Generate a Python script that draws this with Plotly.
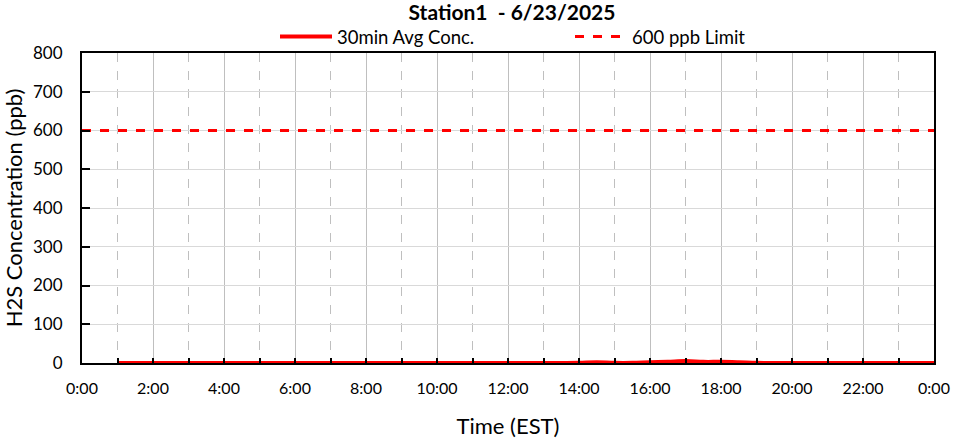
import plotly.graph_objects as go

# ---- data ----
hours = [1 + 0.5 * i for i in range(47)]  # 1:00 .. 24:00, 30-min steps
avg_conc = [0, 0, 0, 0, 0, 0, 0, 0, 0, 0,
            0, 0, 0, 0, 0, 0, 0, 0, 0, 0,
            0, 0, 0, 0, 0, 0, 0.5, 2, 0.5, 0.5,
            2, 3, 5, 3, 3, 2, 0.5, 0, 0, 0,
            0, 0, 0, 0, 0, 0, 0]
raw_conc = [0, 0, 0, 0, 0, 0, 0, 0, 0, 0,
            0, 0, 0, 0, 0, 0, 0, 0, 0, 0,
            0, 0, 0, 0, 0, 0, 0, 1, 0, 0,
            1, 2, 4, 2, 2, 1, 0, 0, 0, 0,
            0, 0, 0, 0, 0, 0, 0]
limit_x = [0, 24]
limit_y = [600, 600]
tick_hours = list(range(0, 25, 2))
tick_labels = ["0:00", "2:00", "4:00", "6:00", "8:00", "10:00", "12:00",
               "14:00", "16:00", "18:00", "20:00", "22:00", "0:00"]
y_ticks = list(range(0, 801, 100))

FONT = "Lato, 'Open Sans', sans-serif"

fig = go.Figure()
fig.add_trace(go.Scatter(x=hours, y=raw_conc, mode="lines", showlegend=False,
                         line=dict(color="black", width=2), hoverinfo="skip"))
fig.add_trace(go.Scatter(x=hours, y=avg_conc, mode="lines", name="30min Avg Conc.",
                         line=dict(color="#FF0000", width=4, shape="spline")))
fig.add_trace(go.Scatter(x=limit_x, y=limit_y, mode="lines", name="600 ppb Limit",
                         line=dict(color="#FF0000", width=3, dash="dash")))

fig.update_layout(
    width=954, height=439,
    margin=dict(l=82, r=20, t=53, b=76, autoexpand=False),
    paper_bgcolor="white", plot_bgcolor="white",
    font=dict(family=FONT, color="black"),
    title=dict(text="<b>Station1\u00a0\u00a0- 6/23/2025</b>", x=512 / 954, xanchor="center",
               xref="container", y=1 - 13 / 439, yref="container", yanchor="middle",
               font=dict(size=21, family=FONT)),
    legend=dict(orientation="h", xref="container", x=275 / 954, xanchor="left",
                yref="container", y=1 - 37 / 439, yanchor="middle",
                entrywidth=228, entrywidthmode="pixels",
                font=dict(size=18.5, family=FONT), bgcolor="rgba(0,0,0,0)",
                itemwidth=52, tracegroupgap=0),
    showlegend=True,
)

fig.update_xaxes(
    range=[0, 24], tickvals=tick_hours, ticktext=tick_labels,
    tickfont=dict(size=16, family=FONT), ticks="inside", ticklen=5, tickwidth=2,
    tickcolor="black",
    showgrid=True, gridcolor="#BFBFBF", gridwidth=1,
    minor=dict(tickvals=list(range(1, 24, 2)), ticks="inside", ticklen=5, tickwidth=2,
               tickcolor="black", showgrid=True, gridcolor="#BFBFBF", griddash="dash",
               gridwidth=1),
    showline=True, linecolor="black", linewidth=2, mirror=True,
    zeroline=False,
    title=dict(text="Time (EST)", font=dict(size=22, family=FONT), standoff=22),
    ticklabelstandoff=10,
)
fig.update_yaxes(
    range=[0, 800], tickvals=y_ticks,
    tickfont=dict(size=17, family=FONT), ticks="inside", ticklen=8, tickwidth=2,
    tickcolor="black",
    showgrid=True, gridcolor="#D9D9D9", gridwidth=1,
    showline=True, linecolor="black", linewidth=2, mirror=True,
    zeroline=False,
    title=dict(text="H2S Concentration (ppb)", font=dict(size=22, family=FONT), standoff=6),
    ticklabelstandoff=14,
)

fig.write_html("out.html", config={"displayModeBar": False},
               post_script="document.body.style.margin='0';")
